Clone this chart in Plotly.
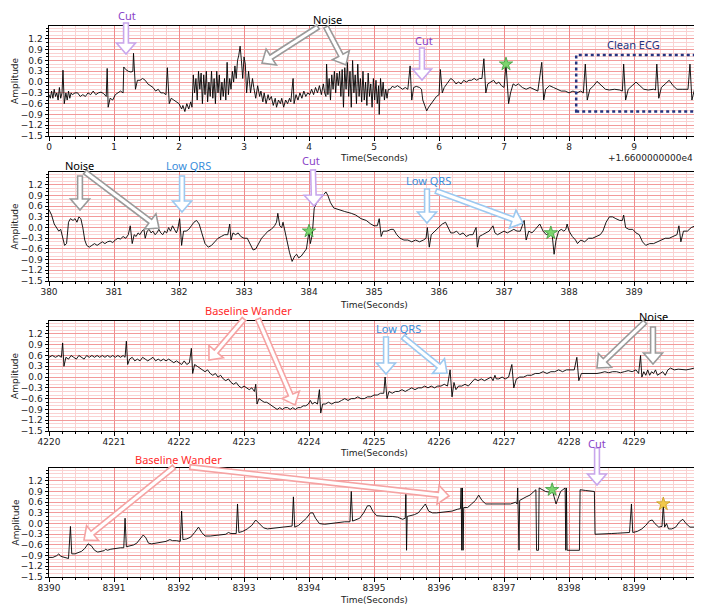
import math
import plotly.graph_objects as go

# ---------------- data ----------------
OFFSET1 = 16600  # panel 1 x values are offset seconds (+1.66e4)

p1_samples = [
    (0.00,-0.35),(0.02,-0.45),(0.04,-0.25),(0.06,-0.45),(0.08,-0.2),(0.10,-0.4),(0.12,-0.3),(0.14,-0.5),
    (0.16,-0.15),(0.18,-0.45),(0.20,-0.3),(0.215,0.33),(0.235,-0.6),(0.26,-0.3),(0.28,-0.5),(0.30,-0.25),
    (0.32,-0.45),(0.34,-0.3),(0.36,-0.35),(0.40,-0.3),(0.44,-0.3),(0.48,-0.4),(0.52,-0.35),(0.56,-0.4),
    (0.60,-0.3),(0.64,-0.35),(0.68,-0.25),(0.72,-0.35),(0.76,-0.3),(0.80,-0.28),(0.84,-0.32),(0.88,-0.4),
    (0.895,0.38),(0.91,-0.7),(0.94,-0.45),(0.98,-0.5),(1.02,-0.35),(1.06,-0.3),(1.10,-0.25),(1.14,-0.3),
    (1.15,0.42),(1.18,0.35),(1.22,0.3),(1.26,0.28),(1.29,0.3),(1.30,0.8),(1.33,-0.2),(1.36,0.05),
    (1.40,0.05),(1.44,0.1),(1.48,0.05),(1.52,-0.05),(1.56,-0.1),(1.60,-0.15),(1.64,-0.25),(1.68,-0.2),
    (1.72,-0.3),(1.76,-0.3),(1.80,-0.35),(1.82,0.4),(1.85,-0.6),(1.88,-0.45),(1.92,-0.5),(1.96,-0.55),
    (2.00,-0.6),(2.04,-0.75),(2.06,-0.65),(2.09,-0.82),(2.12,-0.6),(2.15,-0.75),(2.18,-0.55),(2.20,-0.7),
    (2.22,0.2),(2.24,-0.3),(2.26,0.1),(2.28,-0.5),(2.30,0.3),(2.32,-0.2),(2.34,0.25),(2.36,-0.6),
    (2.38,0.2),(2.40,-0.35),(2.42,0.3),(2.44,-0.55),(2.46,0.0),(2.48,-0.4),(2.50,0.3),(2.52,-0.45),
    (2.54,0.1),(2.56,-0.6),(2.58,0.3),(2.60,-0.3),(2.62,0.2),(2.64,-0.5),(2.66,0.0),(2.68,-0.4),
    (2.70,0.1),(2.72,-0.5),(2.74,0.55),(2.76,-0.35),(2.78,0.1),(2.80,-0.2),(2.82,0.3),(2.84,0.0),
    (2.86,0.45),(2.88,0.1),(2.90,0.6),(2.92,0.75),(2.94,1.0),(2.96,0.6),(2.98,0.1),(3.00,0.7),
    (3.02,0.5),(3.04,-0.3),(3.07,0.3),(3.10,-0.3),(3.13,0.1),(3.15,-0.15),(3.18,-0.45),(3.21,-0.1),
    (3.24,-0.4),(3.26,-0.25),(3.29,-0.55),(3.31,-0.3),(3.34,-0.6),(3.37,-0.35),(3.39,-0.5),(3.42,-0.4),
    (3.45,-0.65),(3.48,-0.45),(3.50,-0.7),(3.53,-0.5),(3.56,-0.6),(3.58,-0.45),(3.61,-0.7),(3.64,-0.5),
    (3.67,-0.6),(3.70,-0.45),(3.72,-0.55),(3.755,0.1),(3.77,-0.6),(3.80,-0.35),
    (3.83,-0.5),(3.86,-0.3),(3.89,-0.45),(3.92,-0.25),(3.95,-0.4),(3.98,-0.3),(4.01,-0.35),(4.04,-0.2),
    (4.07,-0.35),(4.10,-0.15),(4.13,-0.3),(4.16,-0.1),(4.19,-0.35),(4.22,-0.05),(4.24,-0.3),(4.26,-0.4),
    (4.27,0.5),
    (4.29,-0.35),(4.31,0.1),(4.33,-0.5),(4.35,0.2),(4.37,-0.2),(4.39,0.3),(4.41,-0.3),(4.43,0.25),
    (4.45,-0.1),(4.47,0.3),(4.49,-0.4),(4.51,0.35),(4.53,-0.7),(4.55,0.4),(4.57,-0.2),(4.59,0.55),
    (4.61,-0.4),(4.63,0.3),(4.65,-0.7),(4.67,0.6),(4.69,-0.3),(4.71,0.2),(4.73,-0.6),(4.75,0.5),
    (4.77,-0.4),(4.79,0.1),(4.81,-0.55),(4.83,0.3),(4.85,-0.5),(4.87,0.0),(4.89,-0.65),(4.91,0.25),
    (4.93,-0.4),(4.95,-0.05),(4.97,-0.7),(4.99,0.1),(5.01,-0.5),(5.03,0.05),(5.05,-0.6),(5.07,-0.1),
    (5.08,-0.9),(5.10,0.1),(5.12,-0.4),(5.14,0.0),(5.16,-0.5),(5.18,-0.2),(5.20,-0.45),(5.22,-0.2),
    (5.25,-0.2),(5.28,-0.12),(5.32,-0.15),(5.36,-0.1),(5.40,-0.15),(5.44,-0.2),(5.48,-0.15),(5.52,-0.2),
    (5.555,0.45),(5.58,-0.5),(5.61,-0.15),(5.65,-0.12),(5.70,-0.15),(5.73,-0.2),(5.75,-0.5),(5.78,-0.65),
    (5.81,-0.8),(5.84,-0.7),(5.88,-0.6),(5.92,-0.5),(5.96,-0.4),(6.00,-0.35),(6.02,0.35),(6.05,-0.3),
    (6.08,-0.15),(6.12,-0.05),(6.18,0.1),(6.22,0.05),(6.26,-0.05),(6.30,0.0),(6.34,-0.05),(6.38,0.05),
    (6.42,0.0),(6.46,0.05),(6.50,0.05),(6.54,0.1),(6.58,0.05),(6.62,0.1),(6.66,0.1),(6.69,0.65),
    (6.72,-0.3),(6.75,-0.05),(6.80,0.0),(6.84,0.05),(6.88,-0.05),(6.92,0.0),(6.96,-0.1),(7.00,-0.15),
    (7.03,0.5),(7.07,-0.6),(7.10,-0.3),(7.14,-0.05),(7.18,-0.1),(7.22,-0.05),(7.28,-0.15),(7.34,-0.2),
    (7.40,-0.15),(7.46,-0.2),(7.52,-0.25),(7.58,0.55),(7.61,-0.5),(7.64,-0.2),(7.70,-0.1),(7.76,-0.15),
    (7.82,-0.2),(7.88,-0.25),(7.94,-0.25),(8.00,-0.3),(8.06,-0.25),(8.12,-0.3),(8.18,-0.25),(8.22,-0.3),
    (8.25,0.5),(8.28,-0.5),(8.32,-0.2),(8.38,-0.1),(8.43,0.02),(8.50,-0.1),(8.56,-0.2),(8.62,-0.22),
    (8.70,-0.2),(8.78,-0.22),(8.82,-0.25),(8.84,0.5),(8.87,-0.5),(8.91,-0.2),(8.97,-0.1),(9.03,0.0),
    (9.09,-0.1),(9.15,-0.2),(9.22,-0.22),(9.30,-0.2),(9.33,-0.22),(9.35,0.5),(9.38,-0.45),(9.42,-0.15),
    (9.48,-0.05),(9.54,0.05),(9.60,-0.1),(9.66,-0.2),(9.74,-0.2),(9.83,-0.2),(9.86,0.5),(9.89,-0.5),
    (9.93,-0.2),(9.99,-0.15),
]

p2_samples = [
    (380.00,0.5),(380.04,0.35),(380.08,0.1),(380.12,0.0),(380.15,-0.1),(380.18,-0.05),(380.21,-0.3),
    (380.24,-0.5),(380.27,-0.45),(380.30,0.15),(380.33,0.25),(380.37,0.2),(380.40,0.25),(380.43,0.15),
    (380.46,0.3),(380.49,0.25),(380.52,0.0),(380.55,-0.35),(380.58,-0.5),(380.62,-0.55),(380.66,-0.5),
    (380.70,-0.45),(380.74,-0.5),(380.78,-0.45),(380.82,-0.4),(380.86,-0.45),(380.90,-0.4),(380.94,-0.38),
    (380.98,-0.42),(381.02,-0.35),(381.06,-0.3),(381.10,-0.32),(381.14,-0.25),(381.18,-0.3),(381.22,-0.2),
    (381.25,0.05),(381.28,-0.45),(381.31,-0.2),(381.34,-0.25),(381.37,-0.15),(381.40,-0.2),(381.43,-0.1),
    (381.46,-0.05),(381.48,-0.3),(381.51,-0.1),(381.54,-0.05),(381.57,-0.15),(381.60,-0.1),(381.63,-0.2),
    (381.66,-0.15),(381.69,-0.05),(381.72,-0.15),(381.75,-0.2),(381.78,-0.1),(381.81,-0.15),(381.84,0.0),
    (381.87,-0.1),(381.90,0.05),(381.93,-0.05),(381.96,-0.15),(381.98,-0.05),(382.01,0.25),(382.04,-0.5),
    (382.07,-0.1),(382.11,-0.1),(382.15,-0.05),(382.19,0.05),(382.23,0.15),(382.27,0.2),(382.31,0.1),
    (382.35,-0.15),(382.40,-0.45),(382.45,-0.55),(382.50,-0.5),(382.55,-0.4),(382.60,-0.3),(382.65,-0.25),
    (382.70,-0.2),(382.75,-0.2),(382.78,0.1),(382.80,-0.35),(382.83,-0.15),(382.87,-0.2),(382.91,-0.15),
    (382.95,-0.25),(383.00,-0.3),(383.05,-0.3),(383.10,-0.5),(383.14,-0.63),(383.18,-0.6),(383.22,-0.45),
    (383.27,-0.3),(383.32,-0.2),(383.37,-0.1),(383.42,-0.05),(383.47,0.05),(383.50,0.15),(383.52,0.4),
    (383.55,0.05),(383.58,0.0),(383.60,0.15),(383.63,-0.1),(383.66,-0.4),(383.70,-0.7),(383.74,-0.95),
    (383.78,-0.8),(383.81,-0.75),(383.84,-0.85),(383.88,-0.8),(383.92,-0.7),(383.96,-0.6),(384.00,-0.1),
    (384.02,-0.45),(384.05,-0.2),(384.08,0.55),(384.12,0.7),(384.17,0.8),(384.22,0.9),(384.26,1.0),
    (384.29,0.9),(384.33,0.7),(384.38,0.55),(384.45,0.5),(384.55,0.45),(384.65,0.4),(384.72,0.35),
    (384.80,0.25),(384.88,0.2),(384.95,0.1),(385.00,0.05),(385.05,0.05),(385.08,0.25),(385.11,-0.25),
    (385.14,-0.1),(385.20,-0.1),(385.26,-0.05),(385.30,-0.05),(385.35,-0.2),(385.40,-0.3),(385.46,-0.35),
    (385.52,-0.35),(385.58,-0.4),(385.64,-0.35),(385.70,-0.4),(385.76,-0.35),(385.80,-0.3),(385.82,0.0),
    (385.85,-0.55),(385.88,-0.2),(385.94,-0.1),(386.00,0.0),(386.05,0.1),(386.10,0.15),(386.14,0.0),
    (386.18,-0.15),(386.22,-0.15),(386.27,-0.1),(386.32,-0.2),(386.37,-0.15),(386.42,-0.25),(386.47,-0.2),
    (386.52,-0.2),(386.57,0.0),(386.59,-0.55),(386.62,-0.25),(386.67,-0.2),(386.72,-0.15),(386.77,-0.1),
    (386.83,0.05),(386.86,-0.15),(386.90,-0.2),(386.95,-0.15),(387.00,-0.1),(387.05,-0.15),(387.10,-0.1),
    (387.15,-0.05),(387.20,-0.1),(387.25,-0.1),(387.31,0.2),(387.34,-0.35),(387.38,-0.1),(387.43,-0.15),
    (387.48,-0.05),(387.52,0.05),(387.55,0.1),(387.60,-0.1),(387.65,-0.2),(387.70,-0.15),(387.74,-0.2),
    (387.77,-0.75),(387.80,-0.35),(387.84,-0.1),(387.88,-0.05),(387.92,-0.1),(387.95,-0.05),(387.97,0.1),
    (388.00,-0.1),(388.05,-0.25),(388.10,-0.35),(388.13,-0.45),(388.18,-0.35),(388.24,-0.4),(388.30,-0.3),
    (388.36,-0.3),(388.42,-0.25),(388.48,-0.2),(388.52,-0.1),(388.57,0.15),(388.62,0.3),(388.67,0.3),
    (388.72,0.25),(388.78,0.2),(388.82,0.2),(388.84,0.35),(388.87,0.0),(388.92,-0.05),(388.98,-0.05),
    (389.03,-0.15),(389.08,-0.2),(389.13,-0.4),(389.18,-0.5),(389.24,-0.45),(389.30,-0.45),(389.36,-0.4),
    (389.42,-0.35),(389.48,-0.3),(389.54,-0.3),(389.60,-0.25),(389.66,-0.2),(389.69,0.05),(389.72,-0.4),
    (389.76,-0.1),(389.82,-0.1),(389.88,0.0),(389.94,0.05),(389.99,-0.05),
]

p3_samples = [
    (4220.00,0.55),(4220.05,0.6),(4220.10,0.55),(4220.15,0.6),(4220.19,0.55),(4220.21,0.95),(4220.23,0.3),
    (4220.26,0.55),(4220.30,0.5),(4220.34,0.6),(4220.38,0.55),(4220.42,0.5),(4220.46,0.6),(4220.50,0.55),
    (4220.54,0.5),(4220.58,0.6),(4220.62,0.55),(4220.66,0.6),(4220.70,0.55),(4220.74,0.6),(4220.78,0.55),
    (4220.82,0.6),(4220.86,0.55),(4220.90,0.6),(4220.94,0.55),(4220.98,0.6),(4221.02,0.55),(4221.06,0.6),
    (4221.10,0.55),(4221.14,0.6),(4221.17,0.55),(4221.19,1.0),(4221.21,0.35),(4221.24,0.5),(4221.28,0.55),
    (4221.32,0.45),(4221.36,0.5),(4221.40,0.45),(4221.44,0.55),(4221.48,0.5),(4221.52,0.45),(4221.56,0.5),
    (4221.60,0.55),(4221.64,0.45),(4221.68,0.5),(4221.72,0.45),(4221.76,0.5),(4221.80,0.45),(4221.84,0.5),
    (4221.88,0.45),(4221.92,0.4),(4221.96,0.45),(4222.00,0.4),(4222.04,0.35),(4222.08,0.45),(4222.12,0.35),
    (4222.16,0.4),(4222.19,0.8),(4222.21,0.1),(4222.24,0.35),(4222.28,0.3),(4222.32,0.25),(4222.36,0.2),
    (4222.40,0.15),(4222.44,0.2),(4222.48,0.1),(4222.52,0.05),(4222.56,0.1),(4222.60,0.0),(4222.64,0.05),
    (4222.68,-0.05),(4222.72,-0.1),(4222.76,-0.05),(4222.80,-0.15),(4222.84,-0.2),(4222.88,-0.15),
    (4222.92,-0.25),(4222.96,-0.3),(4223.00,-0.25),(4223.04,-0.3),(4223.08,-0.35),(4223.12,-0.3),
    (4223.16,-0.4),(4223.18,-0.2),(4223.20,-0.75),(4223.23,-0.6),(4223.27,-0.65),(4223.31,-0.7),
    (4223.35,-0.7),(4223.39,-0.75),(4223.43,-0.8),(4223.47,-0.85),(4223.51,-0.9),(4223.55,-0.85),
    (4223.59,-0.9),(4223.63,-0.85),(4223.67,-0.85),(4223.71,-0.9),(4223.75,-0.85),(4223.79,-0.9),
    (4223.83,-0.85),(4223.87,-0.85),(4223.91,-0.8),(4223.95,-0.8),(4223.99,-0.75),(4224.02,-0.65),
    (4224.05,-0.75),(4224.09,-0.7),(4224.13,-0.75),(4224.16,-0.35),(4224.18,-1.0),(4224.21,-0.75),
    (4224.25,-0.75),(4224.30,-0.7),(4224.35,-0.75),(4224.40,-0.7),(4224.45,-0.7),(4224.50,-0.65),
    (4224.55,-0.6),(4224.60,-0.65),(4224.65,-0.6),(4224.70,-0.6),(4224.75,-0.55),(4224.80,-0.6),
    (4224.85,-0.6),(4224.90,-0.55),(4224.95,-0.55),(4225.00,-0.5),(4225.05,-0.5),(4225.10,-0.45),
    (4225.15,-0.45),(4225.17,0.0),(4225.20,-0.6),(4225.23,-0.4),(4225.28,-0.45),(4225.33,-0.4),
    (4225.38,-0.4),(4225.43,-0.35),(4225.48,-0.4),(4225.53,-0.35),(4225.58,-0.3),(4225.63,-0.35),
    (4225.68,-0.3),(4225.73,-0.3),(4225.78,-0.25),(4225.83,-0.3),(4225.88,-0.25),(4225.93,-0.3),
    (4225.98,-0.25),(4226.03,-0.25),(4226.08,-0.2),(4226.13,-0.25),(4226.17,0.2),(4226.20,-0.55),
    (4226.23,-0.15),(4226.26,-0.35),(4226.30,-0.25),(4226.35,-0.25),(4226.40,-0.2),(4226.45,-0.25),
    (4226.50,-0.15),(4226.55,-0.05),(4226.60,-0.1),(4226.65,-0.05),(4226.70,-0.1),(4226.75,-0.05),
    (4226.80,0.0),(4226.83,-0.1),(4226.86,0.05),(4226.88,-0.05),(4226.92,-0.05),(4226.97,0.0),
    (4227.02,-0.05),(4227.07,0.0),(4227.12,0.35),(4227.15,-0.3),(4227.19,-0.05),(4227.24,0.0),
    (4227.30,0.0),(4227.36,0.05),(4227.42,0.05),(4227.48,0.1),(4227.54,0.1),(4227.60,0.15),(4227.66,0.1),
    (4227.72,0.15),(4227.78,0.15),(4227.84,0.2),(4227.90,0.15),(4227.96,0.2),(4228.02,0.2),(4228.08,0.2),
    (4228.12,0.55),(4228.15,-0.1),(4228.19,0.1),(4228.25,0.1),(4228.31,0.1),(4228.37,0.08),(4228.43,0.1),
    (4228.49,0.12),(4228.55,0.15),(4228.61,0.12),(4228.67,0.15),(4228.73,0.15),(4228.79,0.12),
    (4228.85,0.15),(4228.91,0.18),(4228.97,0.15),(4229.03,0.2),(4229.07,0.1),(4229.10,0.6),(4229.12,0.0),
    (4229.15,0.15),(4229.18,0.05),(4229.21,0.2),(4229.24,0.05),(4229.27,0.15),(4229.30,0.1),(4229.33,0.2),
    (4229.36,0.05),(4229.40,0.1),(4229.44,0.15),(4229.48,0.05),(4229.52,0.2),(4229.56,0.25),(4229.62,0.2),
    (4229.68,0.22),(4229.74,0.2),(4229.80,0.2),(4229.86,0.22),(4229.92,0.25),(4229.99,0.28),
]

p4_samples = [
    (8390.00,-0.95),(8390.06,-0.95),(8390.12,-0.9),(8390.15,-0.85),(8390.18,-0.92),(8390.24,-0.95),
    (8390.30,-0.98),(8390.33,-0.08),(8390.35,-0.85),(8390.40,-0.85),(8390.45,-0.82),(8390.50,-0.78),
    (8390.55,-0.7),(8390.60,-0.57),(8390.65,-0.62),(8390.70,-0.75),(8390.75,-0.8),(8390.80,-0.78),
    (8390.85,-0.76),(8390.87,-0.72),(8390.90,-0.75),(8390.95,-0.72),(8391.00,-0.7),(8391.05,-0.7),
    (8391.10,-0.68),(8391.15,-0.68),(8391.17,0.15),(8391.19,-0.65),(8391.25,-0.62),(8391.30,-0.6),
    (8391.35,-0.55),(8391.40,-0.45),(8391.45,-0.32),(8391.49,-0.4),(8391.53,-0.55),(8391.58,-0.57),
    (8391.65,-0.55),(8391.72,-0.53),(8391.80,-0.5),(8391.86,-0.45),(8391.90,-0.48),(8391.96,-0.48),
    (8392.02,-0.5),(8392.04,0.35),(8392.06,-0.45),(8392.12,-0.43),(8392.18,-0.38),(8392.24,-0.25),
    (8392.30,-0.1),(8392.35,-0.25),(8392.40,-0.35),(8392.48,-0.35),(8392.56,-0.33),(8392.64,-0.32),
    (8392.72,-0.3),(8392.76,-0.25),(8392.80,-0.28),(8392.88,-0.28),(8392.90,0.55),(8392.92,-0.25),
    (8392.98,-0.22),(8393.05,-0.15),(8393.12,-0.05),(8393.18,0.1),(8393.24,0.0),(8393.30,-0.12),
    (8393.36,-0.15),(8393.45,-0.13),(8393.55,-0.1),(8393.62,-0.1),(8393.70,-0.08),(8393.74,-0.07),
    (8393.76,0.75),(8393.78,-0.1),(8393.84,-0.05),(8393.90,0.05),(8393.96,0.15),(8394.02,0.3),
    (8394.06,0.3),(8394.10,0.15),(8394.16,0.0),(8394.24,-0.02),(8394.32,0.0),(8394.40,0.0),(8394.48,0.02),
    (8394.55,0.05),(8394.63,0.05),(8394.65,0.9),(8394.67,0.07),(8394.72,0.1),(8394.78,0.15),(8394.84,0.3),
    (8394.90,0.5),(8394.94,0.5),(8394.98,0.35),(8395.04,0.22),(8395.12,0.2),(8395.20,0.2),(8395.28,0.2),
    (8395.36,0.18),(8395.44,0.12),(8395.48,0.15),(8395.49,1.0),(8395.50,-0.75),(8395.51,0.2),(8395.56,0.22),
    (8395.62,0.25),(8395.68,0.3),(8395.74,0.45),(8395.79,0.55),(8395.84,0.35),(8395.90,0.3),(8395.96,0.3),
    (8396.04,0.32),(8396.12,0.35),(8396.20,0.35),(8396.28,0.4),(8396.33,0.42),(8396.34,1.0),(8396.35,-0.75),
    (8396.36,1.0),(8396.37,-0.75),(8396.38,0.45),(8396.44,0.45),(8396.50,0.55),(8396.56,0.65),(8396.61,0.8),
    (8396.66,0.65),(8396.72,0.55),(8396.80,0.55),(8396.90,0.55),(8397.00,0.55),(8397.10,0.55),(8397.18,0.6),
    (8397.20,0.55),(8397.21,1.0),(8397.23,-0.75),(8397.24,0.65),(8397.28,0.7),(8397.34,0.75),(8397.40,0.8),
    (8397.45,0.9),(8397.49,0.95),(8397.50,-0.75),(8397.53,-0.75),(8397.54,1.0),(8397.58,0.95),(8397.64,0.9),
    (8397.70,0.88),(8397.74,0.95),(8397.77,0.75),(8397.80,0.55),(8397.83,0.7),(8397.87,0.9),(8397.94,1.0),
    (8397.95,-0.75),(8397.96,1.0),(8397.97,-0.75),(8398.16,-0.75),(8398.17,0.95),(8398.25,0.93),
    (8398.33,0.92),(8398.39,0.9),(8398.40,-0.3),(8398.45,-0.3),(8398.55,-0.3),(8398.65,-0.28),
    (8398.75,-0.27),(8398.85,-0.25),(8398.93,-0.25),(8398.96,0.55),(8398.98,-0.25),(8399.05,-0.22),
    (8399.12,-0.15),(8399.18,-0.05),(8399.24,0.08),(8399.28,0.1),(8399.32,0.0),(8399.38,-0.1),
    (8399.43,-0.08),(8399.45,0.55),(8399.47,-0.1),(8399.50,0.0),(8399.53,-0.15),(8399.58,-0.15),
    (8399.64,-0.1),(8399.70,0.05),(8399.75,0.12),(8399.80,0.0),(8399.86,-0.1),(8399.93,-0.1),(8399.99,-0.12),
]

# star markers (panel, x, y)
green_stars = [(1, 7.03, 0.5), (2, 384.0, -0.1), (2, 387.72, -0.15), (4, 8397.74, 0.95)]
yellow_stars = [(4, 8399.45, 0.55)]

x_starts = [0, 380, 4220, 8390]
y_ticks = [-1.5, -1.2, -0.9, -0.6, -0.3, 0.0, 0.3, 0.6, 0.9, 1.2]
y_ticktext = [("%.1f" % v).replace("-", "\u2212") for v in y_ticks]

panels = [p1_samples, p2_samples, p3_samples, p4_samples]

# ---------------- layout geometry (screen pixels; the page body adds an 8px margin) ----------------
BODY = 8
SW, SH = 702, 607
PLOT_L, PLOT_R, PLOT_B = 49, 699, 577
PLOT_T = 26
W, H = SW - BODY, SH - BODY
ML, MT = PLOT_L - BODY, PLOT_T - BODY
MR = W - (PLOT_R - BODY)
MB = H - (PLOT_B - BODY)
PW, PH = PLOT_R - PLOT_L, PLOT_B - PLOT_T
panel_px = [(26, 136), (172, 281), (321, 431), (468, 577)]


def px(x):
    return (x - PLOT_L) / PW


def py(y):
    return (PLOT_B - y) / PH


fig = go.Figure()

for i, samples in enumerate(panels):
    xs = [a for a, b in samples]
    ys = [b for a, b in samples]
    ax = "" if i == 0 else str(i + 1)
    fig.add_trace(go.Scatter(x=xs, y=ys, mode="lines", line=dict(color="black", width=0.9),
                             xaxis="x" + ax, yaxis="y" + ax, showlegend=False, hoverinfo="skip"))

for stars, col, edge in [(green_stars, "#7CD46E", "#3C9A3C"), (yellow_stars, "#F2C94C", "#C89A20")]:
    for pnl, sx, sy in stars:
        ax = "" if pnl == 1 else str(pnl)
        fig.add_trace(go.Scatter(x=[sx], y=[sy], mode="markers",
                                 marker=dict(symbol="star", size=10, color=col, line=dict(color=edge, width=0.8)),
                                 xaxis="x" + ax, yaxis="y" + ax, showlegend=False, hoverinfo="skip"))

tickfont = dict(family="DejaVu Sans", size=9, color="#222222")
for i in range(4):
    top, bot = panel_px[i]
    dom = [py(bot), py(top)]
    x0 = x_starts[i]
    xa = dict(domain=[0, 1], range=[x0, x0 + 9.999], anchor="y" if i == 0 else "y" + str(i + 1),
              tickmode="linear", tick0=x0, dtick=1, ticks="outside", ticklen=3.5, tickcolor="black",
              showline=True, linecolor="black", linewidth=1, mirror=True, automargin=False,
              showgrid=True, gridcolor="#F08A8A", gridwidth=1, zeroline=False, ticklabelstandoff=-1,
              minor=dict(dtick=0.2, tick0=x0, ticks="outside", ticklen=2, tickcolor="black",
                         showgrid=True, gridcolor="#FAD2D2", gridwidth=1),
              tickfont=tickfont, showticklabels=True)
    ya = dict(domain=dom, range=[-1.5, 1.56], anchor="x" if i == 0 else "x" + str(i + 1),
              tickmode="array", tickvals=y_ticks, ticktext=y_ticktext, ticks="outside", ticklen=3.5,
              tickcolor="black", showline=True, linecolor="black", linewidth=1, mirror=True, automargin=False,
              showgrid=True, gridcolor="#F29A9A", gridwidth=1, zeroline=False,
              minor=dict(dtick=0.1, tick0=-1.5, ticks="outside", ticklen=2, tickcolor="black",
                         showgrid=True, gridcolor="#FAD2D2", gridwidth=1),
              tickfont=tickfont)
    key = "" if i == 0 else str(i + 1)
    fig.update_layout(**{"xaxis" + key: xa, "yaxis" + key: ya})

annotations = []


def note(text, x, y, color, size, family, angle=0, xanchor="center"):
    annotations.append(dict(text=text, x=px(x), y=py(y), xref="paper", yref="paper", showarrow=False,
                            xanchor=xanchor, yanchor="middle", textangle=angle,
                            font=dict(family=family, size=size, color=color)))


for i in range(4):
    top, bot = panel_px[i]
    note("Amplitude", 15, (top + bot) / 2, "#222", 9, "DejaVu Sans", angle=-90)
    note("Time(Seconds)", 374, [158, 305, 453, 600][i], "#222", 9, "DejaVu Sans")
note("+%.10fe4" % (OFFSET1 / 1e4), 695, 158, "#222", 9, "DejaVu Sans", xanchor="right")

PURPLE, BLUE, RED, NAVY = "#8A45C8", "#3B8EDB", "#FF2B2B", "#25347F"
labels = [
    ("Cut", 127, 16, PURPLE), ("Noise", 327, 19, "black"), ("Cut", 424, 40, PURPLE),
    ("Clean ECG", 633, 45, NAVY), ("Noise", 79, 165, "black"), ("Low QRS", 188, 165, BLUE),
    ("Cut", 311, 161, PURPLE), ("Low QRS", 428, 180, BLUE), ("Baseline Wander", 248, 311, RED),
    ("Low QRS", 398, 328, BLUE), ("Noise", 653, 316, "black"), ("Baseline Wander", 178, 459, RED),
    ("Cut", 597, 443, PURPLE),
]
for t, x, y, c in labels:
    note(t, x, y, c, 11, "Noto Sans")

LAV, GRAY, LBLUE, PINK = "#C8A6EC", "#9A9A9A", "#9CC9F0", "#F5A3A3"
arrows = [
    (126, 23, 126, 54, LAV), (318, 27, 262, 63, GRAY), (326, 27, 346, 65, GRAY), (422, 48, 422, 80, LAV),
    (80, 176, 80, 210, GRAY), (85, 172, 159, 228, GRAY), (182, 176, 182, 212, LBLUE), (313, 170, 314, 206, LAV),
    (427, 189, 427, 223, LBLUE), (436, 191, 523, 223, LBLUE), (244, 319, 209, 360, PINK),
    (258, 319, 295, 405, PINK), (386, 337, 386, 374, LBLUE), (403, 337, 447, 373, LBLUE),
    (645, 322, 597, 368, GRAY), (653, 327, 653, 364, GRAY), (174, 467, 84, 540, PINK),
    (190, 467, 449, 496, PINK), (597, 448, 597, 485, LAV),
]


def block_arrow(x0, y0, x1, y1, w=2.4, hw=9.5, hl=11):
    dx, dy = x1 - x0, y1 - y0
    L = math.hypot(dx, dy)
    ux, uy = dx / L, dy / L
    nx, ny = -uy, ux
    bx, by = x1 - ux * hl, y1 - uy * hl
    pts = [(x0 + nx * w, y0 + ny * w), (bx + nx * w, by + ny * w), (bx + nx * hw, by + ny * hw), (x1, y1),
           (bx - nx * hw, by - ny * hw), (bx - nx * w, by - ny * w), (x0 - nx * w, y0 - ny * w)]
    return "M " + " L ".join("%.5f,%.5f" % (px(a), py(b)) for a, b in pts) + " Z"


shapes = []
for x0, y0, x1, y1, c in arrows:
    shapes.append(dict(type="path", path=block_arrow(x0, y0, x1, y1), xref="paper", yref="paper",
                       fillcolor="white", line=dict(color=c, width=1.6), layer="above"))
# Clean ECG dotted box
shapes.append(dict(type="rect", xref="x", yref="y", x0=8.11, x1=9.98, y0=-0.82, y1=0.75,
                   line=dict(color=NAVY, width=2.5, dash="dot"), fillcolor="rgba(0,0,0,0)", layer="above"))

fig.update_layout(width=W, height=H, margin=dict(l=ML, r=MR, t=MT, b=MB, autoexpand=False),
                  paper_bgcolor="white", plot_bgcolor="white", showlegend=False,
                  annotations=annotations, shapes=shapes)

fig.write_html("out.html")
